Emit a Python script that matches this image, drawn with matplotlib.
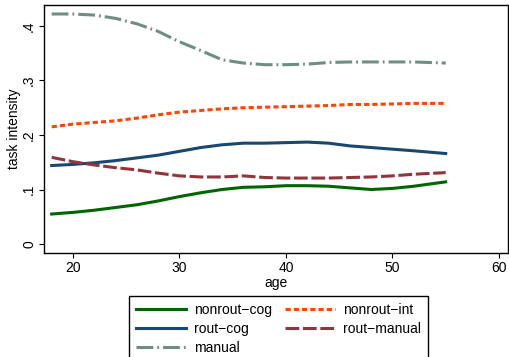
import matplotlib
matplotlib.use("Agg")
from matplotlib import pyplot as plt

# age grid and smoothed task intensities
age = [18, 20, 22, 24, 26, 28, 30, 32, 34, 36, 38, 40, 42, 44, 46, 48, 50, 52, 55]

nonrout_cog = [.055, .058, .062, .067, .072, .079, .087, .094, .100, .104,
               .105, .107, .107, .106, .103, .100, .102, .106, .114]
nonrout_int = [.215, .220, .223, .226, .231, .237, .242, .245, .248, .250,
               .251, .252, .253, .254, .256, .256, .257, .258, .258]
rout_cog = [.144, .146, .149, .153, .158, .163, .170, .177, .182, .185,
            .185, .186, .187, .185, .180, .177, .174, .171, .166]
rout_manual = [.159, .151, .145, .140, .136, .130, .125, .123, .123, .125,
               .122, .121, .121, .121, .122, .123, .125, .128, .131]
manual = [.422, .422, .420, .414, .404, .390, .371, .355, .338, .332,
          .329, .329, .330, .333, .334, .334, .334, .334, .332]

x_ticks = [20, 30, 40, 50, 60]
y_ticks = [0, .1, .2, .3, .4]
y_tick_labels = ["0", ".1", ".2", ".3", ".4"]

plt.rcParams["font.family"] = ["Liberation Sans", "DejaVu Sans"]

fig = plt.figure(figsize=(5.09, 3.57), dpi=100)
ax = fig.add_axes([44 / 509, 1 - 253 / 357, 464 / 509, 248 / 357])

lw = 2.2
l_ncog, = ax.plot(age, nonrout_cog, color="#006400", lw=lw,
                  label="nonrout\u2212cog")
l_nint, = ax.plot(age, nonrout_int, color="#ff4500", lw=lw, dashes=(1.7, 1.0),
                  label="nonrout\u2212int")
l_rcog, = ax.plot(age, rout_cog, color="#1a476f", lw=lw, label="rout\u2212cog")
l_rman, = ax.plot(age, rout_manual, color="#90353b", lw=lw, dashes=(4.5, 1.2),
                  label="rout\u2212manual")
l_man, = ax.plot(age, manual, color="#6e8e84", lw=lw,
                 dashes=(5.5, 1.3, 0.6, 1.3), label="manual")

ax.set_xlim(17.28, 60.85)
ax.set_ylim(-0.0165, 0.4385)
ax.set_xticks(x_ticks)
ax.set_yticks(y_ticks)
ax.set_yticklabels(y_tick_labels, rotation=90, va="center")
ax.tick_params(direction="out", length=3.6, width=0.8, labelsize=10, pad=2)
for s in ax.spines.values():
    s.set_linewidth(1.0)

ax.set_xlabel("age", fontsize=10)
ax.xaxis.set_label_coords(0.5, -0.092)
ax.set_ylabel("task intensity", fontsize=10)
ax.yaxis.set_label_coords(-0.05, 0.5)

# legend is filled row by row in the reference
handles = [l_ncog, l_rcog, l_man, l_nint, l_rman]
fig.legend(handles=handles, labels=[h.get_label() for h in handles],
           loc="upper left", bbox_to_anchor=(129 / 509, 1 - 296 / 357),
           ncol=2, fontsize=10, frameon=True, fancybox=False,
           edgecolor="black", framealpha=1, handlelength=3.6,
           handletextpad=0.6, columnspacing=0.9, borderpad=0.5,
           labelspacing=0.35, borderaxespad=0)

fig.savefig("out.png", dpi=100)
